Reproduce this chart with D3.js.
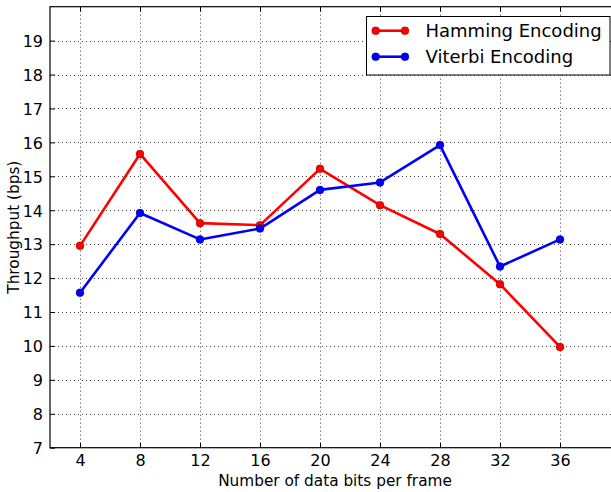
<!DOCTYPE html>
<html>
<head>
<meta charset="utf-8">
<script src="https://cdn.jsdelivr.net/npm/d3@7"></script>
<style>
  html, body { margin: 0; padding: 0; background: #fff; }
  svg { display: block; font-family: "DejaVu Sans", sans-serif; }
</style>
</head>
<body>
<svg id="chart" width="611" height="492"></svg>
<script>
// Throughput per frame size for two channel-coding schemes
const bitsPerFrame = [4, 8, 12, 16, 20, 24, 28, 32, 36];
const hamming = [12.95, 15.66, 13.62, 13.56, 15.22, 14.15, 13.30, 11.82, 9.97];
const viterbi = [11.57, 13.92, 13.14, 13.46, 14.60, 14.82, 15.92, 12.34, 13.14];
const xTicks = [4, 8, 12, 16, 20, 24, 28, 32, 36];
const yTicks = [7, 8, 9, 10, 11, 12, 13, 14, 15, 16, 17, 18, 19];
const seriesNames = ["Hamming Encoding", "Viterbi Encoding"];
const seriesColors = ["#ff0000", "#0000ff"];

const svg = d3.select("#chart");
const plotL = 50, plotR = 620, plotT = 6.7, plotB = 447.7;

const x = d3.scaleLinear().domain([2, 40]).range([plotL, plotR]);
const y = d3.scaleLinear().domain([7, 20]).range([plotB, plotT]);

// dotted grid
const grid = svg.append("g");
grid.selectAll("line.gx").data(xTicks).join("line")
  .attr("x1", d => Math.round(x(d)) + 0.5).attr("x2", d => Math.round(x(d)) + 0.5)
  .attr("y1", plotT).attr("y2", plotB)
  .attr("stroke", "#444").attr("stroke-width", 1).attr("stroke-dasharray", "1,3");
grid.selectAll("line.gy").data(yTicks.filter(d => d > 7)).join("line")
  .attr("y1", d => Math.round(y(d)) + 0.5).attr("y2", d => Math.round(y(d)) + 0.5)
  .attr("x1", plotL).attr("x2", plotR)
  .attr("stroke", "#444").attr("stroke-width", 1).attr("stroke-dasharray", "1,3");

// axes with inward ticks
const tickLen = 5;
const xAxisBottom = d3.axisBottom(x).tickValues(xTicks).tickSize(-tickLen).tickPadding(7);
const xAxisTop = d3.axisTop(x).tickValues(xTicks).tickSize(-tickLen).tickFormat("");
const yAxisLeft = d3.axisLeft(y).tickValues(yTicks).tickSize(-tickLen).tickPadding(7);

function styleAxis(g) {
  g.select(".domain").remove();
  g.selectAll(".tick line").attr("stroke", "#000").attr("stroke-width", 1);
  g.selectAll(".tick text").attr("fill", "#000").attr("font-size", "16px")
    .attr("font-family", "DejaVu Sans, sans-serif");
}
svg.append("g").attr("transform", `translate(0,${plotB})`).call(xAxisBottom).call(styleAxis);
svg.append("g").attr("transform", `translate(0,${plotT})`).call(xAxisTop).call(styleAxis);
svg.append("g").attr("transform", `translate(${plotL},0)`).call(yAxisLeft).call(styleAxis)
  .selectAll(".tick text").attr("dy", "0.36em");

// frame
svg.append("rect")
  .attr("x", plotL).attr("y", plotT).attr("width", plotR - plotL).attr("height", plotB - plotT)
  .attr("fill", "none").attr("stroke", "#000").attr("stroke-width", 1.2);

// series
const allSeries = [hamming, viterbi];
const line = d3.line().x((d, i) => x(bitsPerFrame[i])).y(d => y(d));
allSeries.forEach((vals, s) => {
  svg.append("path").datum(vals)
    .attr("d", line).attr("fill", "none")
    .attr("stroke", seriesColors[s]).attr("stroke-width", 2.6)
    .attr("stroke-linejoin", "round");
  svg.append("g").selectAll("circle").data(vals).join("circle")
    .attr("cx", (d, i) => x(bitsPerFrame[i])).attr("cy", d => y(d)).attr("r", 4)
    .attr("fill", seriesColors[s]).attr("stroke", "#000").attr("stroke-width", 0.4)
    .attr("stroke-opacity", 0.6);
});

// axis titles
svg.append("text")
  .attr("x", 335).attr("y", 486)
  .attr("text-anchor", "middle").attr("font-size", "15.3px").attr("fill", "#000")
  .text("Number of data bits per frame");
svg.append("text")
  .attr("transform", `translate(19,${(plotT + plotB) / 2}) rotate(-90)`)
  .attr("text-anchor", "middle").attr("font-size", "15.3px").attr("fill", "#000")
  .text("Throughput (bps)");

// legend
const lg = svg.append("g");
lg.append("rect")
  .attr("x", 366.5).attr("y", 16.5).attr("width", 243.5).attr("height", 58.5)
  .attr("fill", "#fff").attr("stroke", "#000").attr("stroke-width", 1);
seriesNames.forEach((name, s) => {
  const ly = 30.7 + s * 26;
  lg.append("line").attr("x1", 375.7).attr("x2", 405).attr("y1", ly).attr("y2", ly)
    .attr("stroke", seriesColors[s]).attr("stroke-width", 2.6);
  [375.7, 405].forEach(cx => lg.append("circle").attr("cx", cx).attr("cy", ly).attr("r", 4)
    .attr("fill", seriesColors[s]).attr("stroke", "#000").attr("stroke-width", 0.4)
    .attr("stroke-opacity", 0.6));
  lg.append("text").attr("x", 425.5).attr("y", ly).attr("dy", "0.36em")
    .attr("font-size", "18px").attr("fill", "#000").text(name);
});
</script>
</body>
</html>
